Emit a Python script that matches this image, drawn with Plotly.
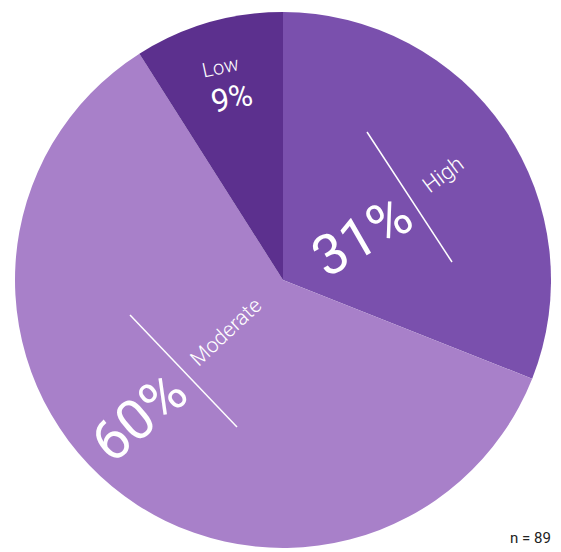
import plotly.graph_objects as go

categories = ["High", "Moderate", "Low"]
values = [31, 60, 9]
pct_labels = ["31%", "60%", "9%"]
sample_note = "n = 89"

colors = ["#7a50ad", "#a880c9", "#5c308e"]

W, H = 561, 552
def px(x):
    return x / W
def py(y):
    return 1 - y / H

fig = go.Figure(go.Pie(
    labels=categories, values=values, sort=False, direction="clockwise",
    rotation=0, marker=dict(colors=colors, line=dict(width=0)),
    textinfo="none", hoverinfo="label+percent", showlegend=False,
    domain=dict(x=[px(283 - 268), px(283 + 268)], y=[py(280 + 268), py(280 - 268)]),
))

big = "Roboto, Liberation Sans, sans-serif"
light = "Roboto, Liberation Sans, sans-serif"

ann = []
def add(text, x, y, size, angle, family, weight=400):
    ann.append(dict(text=text, x=px(x), y=py(y), xref="paper", yref="paper",
                    showarrow=False, textangle=angle, xanchor="center", yanchor="middle",
                    font=dict(family=family, size=size, color="white", weight=weight)))

add(pct_labels[0], 362, 236, 56, -30, big)
add(categories[0], 443, 175, 22, -37, light, 300)
add(pct_labels[1], 139, 417, 56, -40, big)
add(categories[1], 226, 332, 21, -43, light, 300)
add(categories[2], 220, 67, 20, -12, light, 300)
add(pct_labels[2], 231, 98, 32, -12, big)

ann.append(dict(text=sample_note, x=px(553), y=py(538), xref="paper", yref="paper",
                showarrow=False, xanchor="right", yanchor="middle",
                font=dict(family=big, size=15, color="#222")))

shapes = [
    dict(type="line", xref="paper", yref="paper", x0=px(367), y0=py(132), x1=px(452), y1=py(262),
         line=dict(color="white", width=1.5)),
    dict(type="line", xref="paper", yref="paper", x0=px(130), y0=py(315), x1=px(237), y1=py(427),
         line=dict(color="white", width=1.5)),
]

fig.update_layout(width=W, height=H, margin=dict(l=0, r=0, t=0, b=0),
                  paper_bgcolor="white", plot_bgcolor="white",
                  annotations=ann, shapes=shapes)
fig.write_html("out.html", config={"displayModeBar": False},
               post_script="document.body.style.margin='0';document.body.style.overflow='hidden';")
